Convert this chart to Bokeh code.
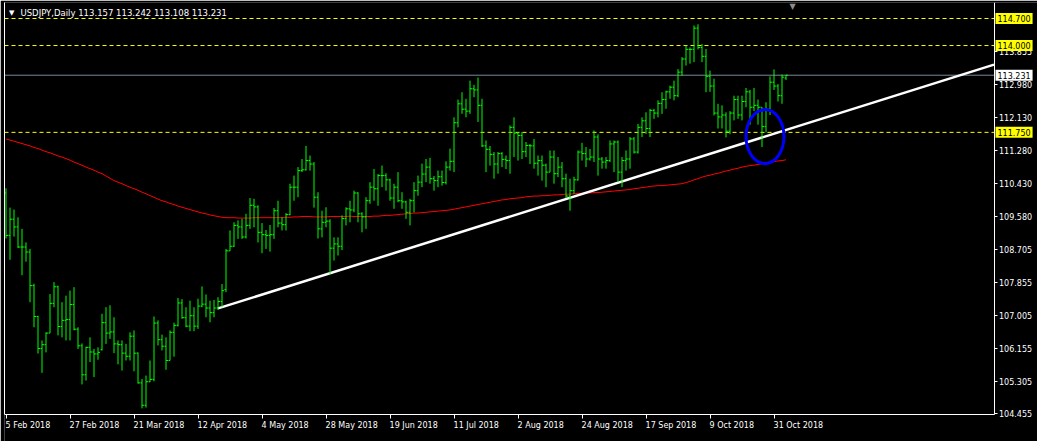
from bokeh.plotting import figure
from bokeh.models import Range1d, LinearAxis, FixedTicker, PrintfTickFormatter, Label, ColumnDataSource
from bokeh.embed import file_html
from bokeh.resources import INLINE

symbol = "USDJPY"
timeframe = "Daily"
last_bar = [113.157, 113.242, 113.108, 113.231]

# daily bars, 5 Feb 2018 .. 5 Nov 2018 (bar index 0..195)
opens = [
110.18, 109.08, 109.50, 109.30, 108.78, 108.78, 108.65, 107.78, 106.98, 106.15,
106.25, 106.55, 107.32, 107.75, 106.72, 106.88, 106.90, 107.29, 106.65, 106.22,
105.47, 106.18, 106.06, 106.01, 106.12, 106.82, 106.55, 106.58, 106.27, 106.25,
106.03, 105.95, 106.47, 106.03, 105.26, 104.68, 105.29, 105.35, 106.81, 106.38,
106.21, 105.84, 106.57, 106.75, 107.33, 106.95, 106.73, 107.00, 106.73, 107.25,
107.30, 107.20, 107.08, 107.20, 107.37, 107.68, 108.68, 108.80, 109.34, 109.30,
109.04, 109.34, 109.86, 109.82, 109.16, 109.10, 109.08, 109.10, 109.72, 109.40,
109.36, 109.62, 110.33, 110.33, 110.76, 110.78, 111.02, 110.93, 110.07, 109.25,
109.42, 109.45, 108.75, 108.86, 108.80, 109.52, 109.77, 109.74, 110.18, 109.64,
109.56, 109.98, 110.33, 110.29, 110.63, 110.63, 110.52, 110.05, 110.33, 109.98,
109.95, 109.68, 109.98, 110.24, 110.46, 110.67, 110.85, 110.55, 110.50, 110.60,
110.45, 110.85, 111.00, 112.00, 112.49, 112.35, 112.30, 112.88, 112.85, 112.45,
111.40, 111.31, 111.18, 110.93, 111.20, 111.05, 111.02, 111.88, 111.73, 111.67,
111.25, 111.41, 111.40, 110.95, 111.02, 110.90, 110.72, 111.11, 110.68, 110.85,
110.55, 110.10, 110.24, 110.52, 111.24, 111.20, 111.06, 111.11, 111.63, 111.06,
110.98, 111.02, 111.45, 111.50, 110.72, 111.02, 111.06, 111.58, 111.24, 111.88,
112.05, 111.85, 112.32, 112.25, 112.50, 112.60, 112.80, 112.92, 112.70, 113.31,
113.65, 113.90, 113.90, 114.45, 113.95, 113.72, 113.20, 112.95, 112.25, 112.15,
112.20, 111.78, 112.25, 112.60, 112.20, 112.55, 112.80, 112.40, 112.45, 112.40,
111.90, 112.35, 113.05, 112.95, 112.70, 113.157]

highs = [
110.30, 109.80, 109.75, 109.55, 109.25, 108.90, 108.73, 107.83, 107.00, 106.36,
106.57, 107.56, 107.87, 107.78, 107.35, 107.52, 107.65, 107.74, 106.70, 106.28,
106.20, 106.44, 106.14, 106.18, 107.05, 107.22, 107.27, 106.96, 106.36, 106.36,
106.27, 106.57, 106.62, 106.05, 105.36, 105.45, 105.84, 106.98, 106.88, 106.51,
106.44, 106.62, 106.82, 107.46, 107.43, 107.22, 107.39, 107.22, 107.44, 107.76,
107.55, 107.39, 107.41, 107.48, 107.82, 108.73, 109.21, 109.42, 109.47, 109.51,
109.64, 110.05, 110.03, 109.86, 109.40, 109.22, 109.35, 109.79, 109.98, 109.55,
109.66, 110.42, 110.63, 110.85, 111.06, 111.40, 111.15, 110.98, 110.20, 109.72,
109.81, 109.50, 109.03, 109.03, 109.60, 109.81, 109.98, 110.24, 110.20, 109.68,
110.07, 110.46, 110.80, 110.67, 110.89, 110.69, 110.55, 110.42, 110.72, 110.20,
109.98, 110.03, 110.46, 110.63, 110.94, 111.06, 111.09, 110.62, 110.76, 110.76,
111.00, 111.33, 112.14, 112.60, 112.79, 112.62, 113.09, 112.98, 113.17, 112.62,
111.54, 111.40, 111.24, 111.24, 111.24, 111.15, 111.93, 112.14, 111.76, 111.76,
111.50, 111.45, 111.58, 111.15, 111.15, 110.94, 111.28, 111.28, 111.11, 110.98,
110.68, 110.55, 110.60, 111.28, 111.48, 111.37, 111.32, 111.80, 111.70, 111.11,
111.11, 111.54, 111.54, 111.54, 111.11, 111.28, 111.63, 111.63, 111.97, 112.14,
112.27, 112.36, 112.36, 112.58, 112.79, 112.83, 112.96, 113.09, 113.39, 113.70,
114.00, 113.95, 114.52, 114.55, 114.04, 113.91, 113.35, 113.14, 112.49, 112.45,
112.27, 112.30, 112.70, 112.70, 112.70, 112.90, 112.85, 112.90, 112.60, 112.40,
112.53, 113.20, 113.38, 113.00, 113.25, 113.242]

lows = [
109.00, 108.45, 109.05, 108.75, 108.05, 108.40, 107.35, 106.70, 106.02, 105.52,
106.05, 106.55, 107.22, 106.49, 106.44, 106.36, 106.36, 106.62, 106.14, 105.22,
105.32, 105.80, 105.41, 105.86, 106.10, 106.27, 106.40, 106.03, 105.74, 105.58,
105.84, 105.84, 105.56, 105.24, 104.60, 104.62, 105.28, 105.30, 106.23, 106.10,
105.60, 105.84, 105.94, 106.72, 106.92, 106.70, 106.60, 106.60, 106.66, 107.22,
106.96, 106.83, 106.96, 107.15, 107.22, 107.61, 108.68, 108.78, 108.99, 108.99,
109.00, 109.25, 109.29, 108.90, 108.62, 108.73, 108.66, 108.99, 109.29, 109.21,
109.21, 109.60, 109.98, 110.07, 110.72, 110.76, 110.76, 109.80, 109.00, 109.03,
109.29, 108.08, 108.43, 108.56, 108.70, 109.34, 109.42, 109.68, 109.42, 109.16,
109.25, 109.90, 109.98, 109.85, 110.33, 110.24, 109.98, 109.77, 109.94, 109.77,
109.51, 109.34, 109.68, 110.11, 110.33, 110.46, 110.42, 110.24, 110.33, 110.37,
110.40, 110.76, 110.72, 111.88, 112.23, 112.14, 112.23, 112.66, 112.02, 111.37,
110.72, 110.89, 110.55, 110.68, 110.85, 110.80, 110.68, 111.11, 111.02, 111.06,
111.11, 110.93, 110.81, 110.63, 110.50, 110.33, 110.72, 110.42, 110.59, 110.33,
110.05, 109.72, 110.16, 110.50, 111.02, 110.85, 111.02, 110.98, 110.63, 110.81,
110.81, 110.98, 110.72, 110.46, 110.33, 110.76, 110.81, 111.20, 111.20, 111.63,
111.71, 111.63, 112.10, 112.14, 112.23, 112.36, 112.62, 112.58, 112.66, 113.22,
113.48, 113.53, 113.57, 113.90, 113.57, 112.79, 112.80, 112.19, 111.85, 111.85,
111.62, 111.70, 112.06, 112.10, 112.06, 112.40, 111.95, 112.30, 111.95, 111.37,
111.75, 112.20, 112.85, 112.55, 112.49, 113.108]

closes = [
109.08, 109.50, 109.30, 108.78, 108.78, 108.65, 107.78, 106.98, 106.15, 106.25,
106.55, 107.32, 107.75, 106.72, 106.88, 106.90, 107.29, 106.65, 106.22, 105.47,
106.18, 106.06, 106.01, 106.05, 106.82, 106.55, 106.58, 106.27, 106.25, 106.03,
105.95, 106.47, 106.03, 105.26, 104.68, 105.29, 105.35, 106.81, 106.38, 106.21,
105.84, 106.57, 106.75, 107.33, 106.95, 106.73, 107.00, 106.73, 107.25, 107.30,
107.20, 107.08, 107.20, 107.37, 107.65, 108.68, 108.80, 109.34, 109.30, 109.04,
109.34, 109.86, 109.82, 109.16, 109.10, 109.08, 109.10, 109.72, 109.40, 109.36,
109.62, 110.33, 110.33, 110.76, 110.78, 111.02, 110.93, 110.07, 109.25, 109.42,
109.45, 108.75, 108.86, 108.80, 109.52, 109.77, 109.74, 110.18, 109.64, 109.56,
109.98, 110.33, 110.29, 110.63, 110.63, 110.52, 110.05, 110.33, 109.98, 109.95,
109.68, 109.98, 110.24, 110.46, 110.67, 110.85, 110.55, 110.50, 110.60, 110.45,
110.85, 111.00, 112.00, 112.49, 112.35, 112.30, 112.88, 112.85, 112.45, 111.40,
111.31, 111.18, 110.93, 111.20, 111.05, 111.02, 111.88, 111.73, 111.67, 111.25,
111.41, 111.40, 110.95, 111.02, 110.90, 110.72, 111.11, 110.68, 110.85, 110.55,
110.10, 110.24, 110.52, 111.24, 111.20, 111.06, 111.11, 111.63, 111.06, 110.98,
111.02, 111.45, 111.50, 110.72, 111.02, 111.06, 111.58, 111.24, 111.88, 112.05,
111.85, 112.32, 112.25, 112.50, 112.60, 112.80, 112.92, 112.70, 113.31, 113.65,
113.90, 113.90, 114.45, 113.95, 113.72, 113.20, 112.95, 112.25, 112.15, 112.20,
111.78, 112.25, 112.60, 112.20, 112.55, 112.80, 112.40, 112.45, 112.40, 111.90,
112.35, 113.05, 112.95, 112.70, 113.18, 113.231]

# moving average (red line), one value per bar
ma = [
111.58, 111.55, 111.52, 111.49, 111.46, 111.43, 111.40,
111.36, 111.33, 111.29, 111.25, 111.22, 111.18, 111.14, 111.11, 111.07,
111.03, 110.98, 110.94, 110.90, 110.85, 110.81, 110.77, 110.72, 110.68,
110.62, 110.56, 110.50, 110.46, 110.42, 110.37, 110.33, 110.29,
110.25, 110.20, 110.16, 110.11, 110.07, 110.02, 109.98,
109.95, 109.91, 109.88, 109.84, 109.81, 109.78, 109.75, 109.72, 109.69, 109.66,
109.64, 109.61, 109.59, 109.57, 109.55, 109.54,
109.54, 109.54, 109.53, 109.53, 109.53, 109.53, 109.54, 109.54, 109.54, 109.54,
109.54, 109.54, 109.54, 109.54, 109.55, 109.55, 109.56, 109.56, 109.57, 109.57,
109.57, 109.56, 109.56, 109.56, 109.56, 109.57, 109.57, 109.57, 109.57, 109.57,
109.58, 109.57, 109.57, 109.57, 109.57, 109.57,
109.58, 109.58, 109.59, 109.60, 109.60, 109.61, 109.62, 109.63,
109.64, 109.65, 109.66, 109.66, 109.67, 109.68, 109.69, 109.70, 109.71, 109.72, 109.73, 109.74,
109.76, 109.78, 109.80, 109.82, 109.84, 109.86, 109.88, 109.90, 109.92, 109.94, 109.96, 109.98, 110.00,
110.01, 110.03, 110.04, 110.05, 110.06, 110.08, 110.09,
110.10, 110.10, 110.11, 110.11, 110.12, 110.13, 110.13, 110.14,
110.15, 110.15, 110.16, 110.17, 110.17, 110.18, 110.18, 110.19, 110.19, 110.20,
110.21, 110.22, 110.23, 110.24, 110.25, 110.26, 110.27,
110.29, 110.30, 110.32, 110.33, 110.35,
110.36, 110.37, 110.37, 110.38, 110.39, 110.40, 110.41, 110.42,
110.45, 110.48, 110.52, 110.55, 110.59,
110.62, 110.64, 110.67, 110.69, 110.72,
110.75, 110.77, 110.80, 110.82, 110.85,
110.87, 110.89, 110.90, 110.92, 110.94,
110.96, 110.98, 110.99, 111.01, 111.02, 111.04]

date_ticks = [0, 16, 32, 48, 64, 80, 96, 112, 128, 144, 160, 176, 192]
date_labels = ["5 Feb 2018", "27 Feb 2018", "21 Mar 2018", "12 Apr 2018", "4 May 2018",
               "28 May 2018", "19 Jun 2018", "11 Jul 2018", "2 Aug 2018", "24 Aug 2018",
               "17 Sep 2018", "9 Oct 2018", "31 Oct 2018"]

price_ticks = [113.855, 112.980, 112.130, 111.280, 110.430, 109.580, 108.705,
               107.855, 107.005, 106.155, 105.305, 104.455]
level_lines = [114.700, 114.000, 111.750]
bid_price = 113.231

# trend line anchors (bar index, price), extended as a ray to the price scale
trend_anchor_x = [53, 246.25]
trend_anchor_y = [107.19, 113.48]

# highlighted zone (ellipse): centre bar index / price and size
zone_x = [189.75]
zone_y = [111.64]
ZONE_W = 9.5
ZONE_H = 1.40

n = len(closes)
assert all(len(a) == n for a in (opens, highs, lows, ma))
xs = list(range(n))

FONT = "DejaVu Sans"
BAR = "#00FF00"
YEL = "#FFFF00"

# ---- layout (pixels) ----
W, H = 1037, 441
LEFT, TOP = 4, 2
PX_PER_BAR = 4.0
PX_PER_PRICE = 38.6
X0 = -0.375
X1 = X0 + (W - LEFT) / PX_PER_BAR
Y_TOP = 114.7 + 16 / PX_PER_PRICE
Y_BOT = Y_TOP - (H - TOP) / PX_PER_PRICE
X_AX = X0 + (993.5 - LEFT) / PX_PER_BAR      # price scale line
Y_AX = 104.45                                # time scale line


def px_x(px):
    return X0 + (px - LEFT) / PX_PER_BAR


def px_y(py):
    return Y_TOP - (py - TOP) / PX_PER_PRICE


p = figure(width=W, height=H, output_backend="svg", toolbar_location=None,
           x_range=Range1d(X0, X1), y_range=Range1d(Y_BOT, Y_TOP),
           x_axis_location="below", y_axis_location="right",
           background_fill_color="black", border_fill_color="black",
           min_border_left=LEFT, min_border_top=TOP, min_border_right=0, min_border_bottom=0)
p.outline_line_color = None
p.grid.visible = False

xa = p.below[0]
xa.fixed_location = Y_AX
xa.bounds = (X0, X_AX)
xa.ticker = FixedTicker(ticks=date_ticks)
xa.major_label_overrides = {t: "" for t in date_ticks}
xa.major_label_text_font_size = "8px"
xa.axis_line_color = "white"
xa.major_tick_line_color = "white"
xa.major_tick_out = 4
xa.major_tick_in = 0
xa.minor_tick_line_color = None

ya = p.right[0]
ya.fixed_location = X_AX
ya.bounds = (Y_AX, Y_TOP)
ya.ticker = FixedTicker(ticks=price_ticks)
ya.formatter = PrintfTickFormatter(format="%.3f")
ya.major_label_text_color = "white"
ya.major_label_text_font = FONT
ya.major_label_text_font_size = "8px"
ya.major_label_standoff = 2
ya.axis_line_color = "white"
ya.major_tick_line_color = "white"
ya.major_tick_out = 3
ya.major_tick_in = 0
ya.minor_tick_line_color = None

# left frame line
left = LinearAxis(ticker=FixedTicker(ticks=[]), major_tick_out=0, major_tick_in=0,
                  minor_tick_out=0, minor_tick_in=0, major_label_text_font_size="0px",
                  major_label_standoff=0, axis_line_color="white", bounds=(Y_AX, Y_TOP))
p.add_layout(left, "left")

# level lines (dashed yellow) and bid line (grey), up to the price scale
p.segment(x0=[X0] * len(level_lines), y0=level_lines, x1=[X_AX] * len(level_lines), y1=level_lines,
          line_color=YEL, line_width=1, line_dash="4 3")
p.segment(x0=[X0], y0=[bid_price], x1=[X_AX], y1=[bid_price], line_color="#778899", line_width=1)

# moving average
p.line(xs, ma, line_color="#FF0000", line_width=1)

# trend line as a ray up to the price scale
slope = (trend_anchor_y[1] - trend_anchor_y[0]) / (trend_anchor_x[1] - trend_anchor_x[0])
tx = [trend_anchor_x[0], X_AX]
ty = [trend_anchor_y[0], trend_anchor_y[0] + slope * (X_AX - trend_anchor_x[0])]
p.line(tx, ty, line_color="white", line_width=2.5)

# OHLC bars
src = ColumnDataSource(dict(x=xs, xl=[i - 0.375 for i in xs], xr=[i + 0.5 for i in xs],
                            o=opens, h=highs, l=lows, c=closes))
p.segment("x", "l", "x", "h", source=src, line_color=BAR, line_width=1)
p.segment("xl", "o", "x", "o", source=src, line_color=BAR, line_width=1)
p.segment("x", "c", "xr", "c", source=src, line_color=BAR, line_width=1)

# highlighted zone
p.ellipse(x=zone_x, y=zone_y, width=ZONE_W, height=ZONE_H, fill_color=None,
          line_color="#0000FF", line_width=3)

# header
header = f"{symbol},{timeframe}  " + " ".join(f"{v:.3f}" for v in last_bar)
p.add_layout(Label(x=px_x(8.5), y=px_y(12.5), text="\u25BC", text_color="white",
                   text_font=FONT, text_font_size="7px", text_baseline="middle"))
p.add_layout(Label(x=px_x(20), y=px_y(12.5), text=header, text_color="white",
                   text_font=FONT, text_font_size="8.5px", text_baseline="middle"))
# chart shift marker
p.add_layout(Label(x=px_x(789), y=px_y(6), text="\u25BC", text_color="#8C8C8C",
                   text_font=FONT, text_font_size="8px", text_baseline="middle"))

# date labels, left-aligned at their ticks
for t, s in zip(date_ticks, date_labels):
    p.add_layout(Label(x=t - 0.1, y=px_y(420.5), text=s, text_color="white", text_font=FONT,
                       text_font_size="8px", text_align="left", text_baseline="top"))

# price boxes on the scale
box_x = px_x(995)
for lv in level_lines:
    p.add_layout(Label(x=box_x, y=lv, text=f"{lv:.3f}", text_color="black", text_font=FONT,
                       text_font_size="8px", text_baseline="middle", text_align="left",
                       background_fill_color=YEL, padding=2))
p.add_layout(Label(x=box_x, y=bid_price, text=f"{bid_price:.3f}", text_color="black", text_font=FONT,
                   text_font_size="8px", text_baseline="middle", text_align="left",
                   background_fill_color="white", padding=2))

open("out.html", "w").write(file_html(p, INLINE))
